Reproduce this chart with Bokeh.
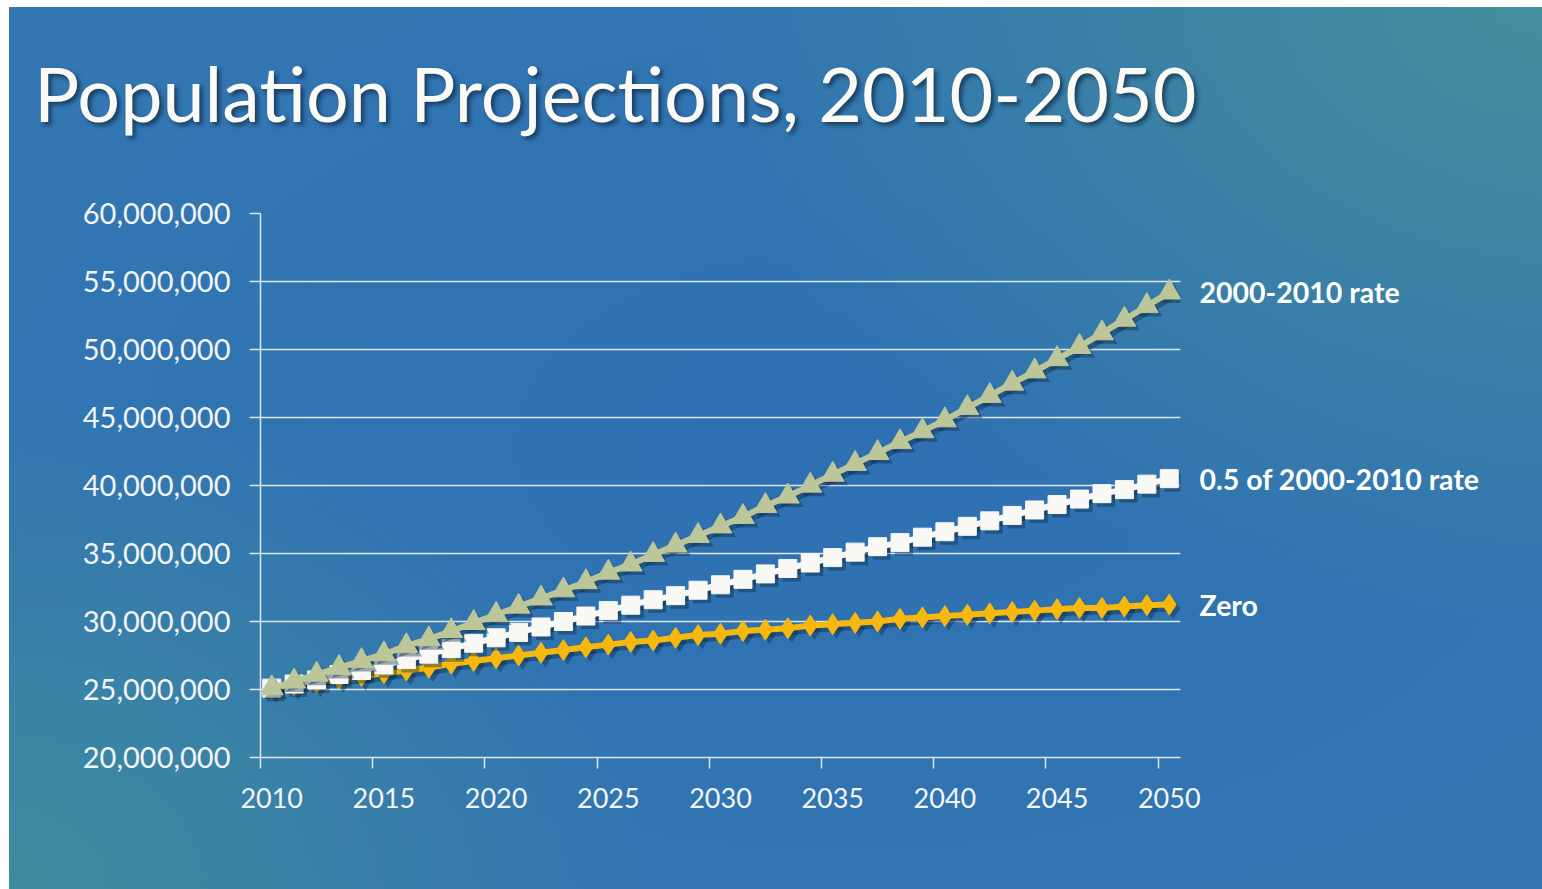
from bokeh.plotting import figure
from bokeh.models import (Range1d, LinearAxis, FixedTicker, NumeralTickFormatter,
                          Grid, ColumnDataSource, Div)
from bokeh.layouts import column
from bokeh.embed import file_html
from bokeh.resources import INLINE

# ---------------- data ----------------
years = list(range(2010, 2051))

# population, millions
rate_full = [25.1, 25.6, 26.1, 26.6, 27.1, 27.6, 28.2, 28.7, 29.3, 29.9,
             30.5, 31.1, 31.7, 32.3, 32.9, 33.6, 34.2, 34.9, 35.6, 36.3,
             37.0, 37.7, 38.5, 39.2, 40.0, 40.8, 41.6, 42.4, 43.2, 44.0,
             44.8, 45.7, 46.6, 47.5, 48.4, 49.3, 50.2, 51.2, 52.2, 53.2,
             54.2]
rate_half = [25.1, 25.4, 25.7, 26.1, 26.4, 26.8, 27.2, 27.6, 28.0, 28.4,
             28.8, 29.2, 29.6, 30.0, 30.4, 30.8, 31.2, 31.6, 31.9, 32.3,
             32.7, 33.1, 33.5, 33.9, 34.3, 34.7, 35.1, 35.5, 35.8, 36.2,
             36.6, 37.0, 37.4, 37.8, 38.2, 38.6, 39.0, 39.4, 39.7, 40.1,
             40.5]
rate_zero = [25.1, 25.3, 25.5, 25.8, 26.0, 26.2, 26.4, 26.6, 26.9, 27.1,
             27.3, 27.5, 27.7, 27.9, 28.1, 28.3, 28.5, 28.6, 28.8, 29.0,
             29.1, 29.3, 29.4, 29.5, 29.7, 29.8, 29.9, 30.0, 30.2, 30.3,
             30.4, 30.5, 30.6, 30.7, 30.8, 30.9, 31.0, 31.0, 31.1, 31.2,
             31.25]

y_ticks = [20000000, 25000000, 30000000, 35000000, 40000000,
           45000000, 50000000, 55000000, 60000000]
x_label_years = [2010, 2015, 2020, 2025, 2030, 2035, 2040, 2045, 2050]
x_boundary_ticks = [2009.5, 2014.5, 2019.5, 2024.5, 2029.5, 2034.5,
                    2039.5, 2044.5, 2049.5]

series_names = ["2000-2010 rate", "0.5 of 2000-2010 rate", "Zero"]
title_text = "Population Projections, 2010-2050"

# ---------------- styling ----------------
FONT = "Lato"
W, H = 1542, 889
TITLE_H = 160
GAP = 10          # extra space the layout inserts below the title block
PH = H - TITLE_H - GAP
FRAME_L, FRAME_T = 260, 213 - TITLE_H - GAP
FRAME_W, FRAME_H = 920, 544
X0, X1 = 2009.5, 2050.5
Y0, Y1 = 20000000, 60000000

title_div = Div(text=title_text, width=W, height=TITLE_H, styles={
    "font-family": "Lato",
    "font-size": "75.5px",
    "line-height": "75.5px",
    "color": "#fbfaf5",
    "padding-top": "50px",
    "padding-left": "29px",
    "white-space": "nowrap",
    "box-sizing": "border-box",
    "text-shadow": "3px 3px 4px rgba(10,30,55,0.65)",
})

p = figure(width=W, height=PH, output_backend="svg", toolbar_location=None,
           x_range=Range1d(X0, X1), y_range=Range1d(Y0, Y1),
           x_axis_location=None, y_axis_location=None,
           min_border_left=FRAME_L, min_border_top=FRAME_T,
           min_border_right=W - FRAME_L - FRAME_W,
           min_border_bottom=PH - FRAME_T - FRAME_H)
p.xgrid.visible = False
p.ygrid.visible = False
p.background_fill_alpha = 0
p.border_fill_alpha = 0
p.outline_line_color = None

# shadow ranges (shift a few px right/down)
sh_px = 4
dx = sh_px * (X1 - X0) / FRAME_W
dy = sh_px * (Y1 - Y0) / FRAME_H
p.extra_x_ranges = {"sh": Range1d(X0 - dx, X1 - dx)}
p.extra_y_ranges = {"sh": Range1d(Y0 + dy, Y1 + dy)}

grid_color = "#dfe8f0"
text_color = "#f2f4f6"

# grid
yt = FixedTicker(ticks=y_ticks)
p.add_layout(Grid(dimension=1, ticker=yt, grid_line_color=grid_color,
                  grid_line_width=1.5))

# y axis
yax = LinearAxis(ticker=yt, formatter=NumeralTickFormatter(format="0,0"),
                 axis_line_color=grid_color, axis_line_width=1.5,
                 major_tick_line_color=grid_color, major_tick_line_width=1.5,
                 major_tick_out=11, major_tick_in=0,
                 minor_tick_line_color=None,
                 major_label_text_font=FONT, major_label_text_font_size="29px",
                 major_label_text_color=text_color, major_label_standoff=19)
p.add_layout(yax, "left")

# x axis: tick marks at category boundaries
xax_ticks = LinearAxis(ticker=FixedTicker(ticks=x_boundary_ticks),
                       major_label_overrides={t: " " for t in x_boundary_ticks},
                       axis_line_color=grid_color, axis_line_width=1.5,
                       major_tick_line_color=grid_color, major_tick_line_width=1.5,
                       major_tick_out=11, major_tick_in=0,
                       minor_tick_line_color=None,
                       major_label_text_font_size="1px", major_label_standoff=0)
p.add_layout(xax_ticks, "below")
# x axis: labels at category centres
xax_lab = LinearAxis(ticker=FixedTicker(ticks=x_label_years),
                     axis_line_color=None, major_tick_line_color=None,
                     minor_tick_line_color=None,
                     major_tick_out=0, major_tick_in=0,
                     major_label_text_font=FONT, major_label_text_font_size="27px",
                     major_label_text_color=text_color, major_label_standoff=15)
p.add_layout(xax_lab, "below")

# right axis: series names at each series' last value
end_vals = [round(rate_full[-1] * 1e6), round(rate_half[-1] * 1e6),
            round(rate_zero[-1] * 1e6)]
rax = LinearAxis(ticker=FixedTicker(ticks=end_vals),
                 major_label_overrides={v: n for v, n in zip(end_vals, series_names)},
                 axis_line_color=None, major_tick_line_color=None,
                 minor_tick_line_color=None, major_tick_out=0, major_tick_in=0,
                 major_label_text_font=FONT, major_label_text_font_style="bold",
                 major_label_text_font_size="28.5px", major_label_text_color="#ffffff",
                 major_label_standoff=19)
p.add_layout(rax, "right")

src = ColumnDataSource(dict(
    year=years,
    full=[v * 1e6 for v in rate_full],
    half=[v * 1e6 for v in rate_half],
    zero=[v * 1e6 for v in rate_zero],
))

series = [
    ("zero", "diamond", 21, "#f6b80c", 6),
    ("half", "square", 18, "#f8f8f5", 6),
    ("full", "triangle", 23, "#bcc699", 6),
]

shadow = "#0d2740"
for col, marker, size, color, lw in series:
    p.line("year", col, source=src, line_color=shadow, line_alpha=0.4,
           line_width=lw, x_range_name="sh", y_range_name="sh")
    p.scatter("year", col, source=src, marker=marker, size=size,
              fill_color=shadow, fill_alpha=0.4, line_color=None,
              x_range_name="sh", y_range_name="sh")
    p.line("year", col, source=src, line_color=color, line_width=lw)
    p.scatter("year", col, source=src, marker=marker, size=size,
              fill_color=color, line_color=color, line_width=1)

page = column(title_div, p, spacing=0, width=W, height=H)
page.styles = {
    "background-color": "#3276b2",
    "background-image": (
        "linear-gradient(to bottom, #ffffff 0px, #ffffff 7px, rgba(255,255,255,0) 7px),"
        "linear-gradient(to right, #ffffff 0px, #ffffff 9px, rgba(255,255,255,0) 9px),"
        "radial-gradient(ellipse 55% 70% at 100% 0%, rgba(68,142,156,1) 0%, rgba(68,142,156,0) 100%),"
        "radial-gradient(ellipse 42% 55% at 0% 100%, rgba(62,140,158,1) 0%, rgba(62,140,158,0) 100%),"
        "radial-gradient(ellipse 60% 60% at 55% 50%, rgba(46,112,178,1) 0%, rgba(46,112,178,0) 100%)"
    ),
}

open("out.html", "w").write(file_html(page, INLINE))
